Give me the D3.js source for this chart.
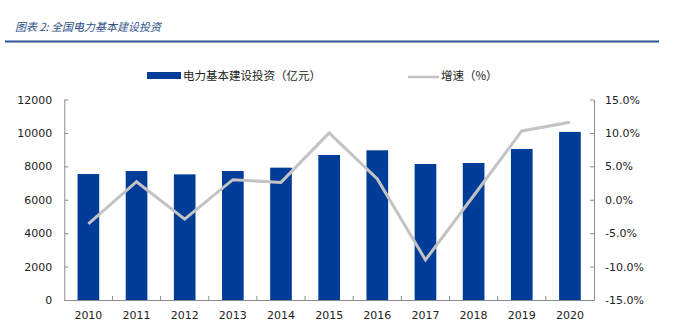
<!DOCTYPE html>
<html><head><meta charset="utf-8">
<script src="https://cdn.jsdelivr.net/npm/d3@7/dist/d3.min.js"></script>
<style>
body{margin:0;background:#fff;}
svg text{font-family:"DejaVu Sans",Verdana,sans-serif;}
.cjk{font-family:"Noto Sans CJK SC","DejaVu Sans",sans-serif;}
</style></head>
<body><svg id="c" width="674" height="325"></svg>
<script>
const years = ["2010","2011","2012","2013","2014","2015","2016","2017","2018","2019","2020"];
const investment = [7540, 7720, 7520, 7720, 7920, 8680, 8960, 8140, 8200, 9040, 10060];
const growth = [-3.6, 2.7, -2.9, 3.0, 2.6, 10.0, 3.1, -9.0, 0.6, 10.3, 11.6];
const leftTicks = [0, 2000, 4000, 6000, 8000, 10000, 12000];
const rightTicks = [-15, -10, -5, 0, 5, 10, 15];
const title = "图表 2: 全国电力基本建设投资";
const barName = "电力基本建设投资（亿元）";
const lineName = "增速（%）";

const svg = d3.select("#c");
const L = 64.3, R = 594, T = 99.5, B = 300;
const x = d3.scaleBand().domain(years).range([L, R]).paddingInner(0.55).paddingOuter(0.275);
const xc = d3.scaleBand().domain(years).range([L, R]);
const y = d3.scaleLinear().domain([0, 12000]).range([B, T]);
const y2 = d3.scaleLinear().domain([-15, 15]).range([B, T]);

// title
svg.append("text").attr("class","cjk").attr("x",15).attr("y",31)
  .attr("font-size",11).attr("font-style","italic").attr("fill","#2d4f8a").text(title);
svg.append("line").attr("x1",5).attr("x2",659).attr("y1",41.5).attr("y2",41.5)
  .attr("stroke","#2f5597").attr("stroke-width",2);

// bars
svg.append("g").selectAll("rect").data(years).join("rect")
  .attr("x", d => x(d)).attr("width", x.bandwidth())
  .attr("y", (d,i) => y(investment[i])).attr("height", (d,i) => B - y(investment[i]))
  .attr("fill","#003d98");

// line
const line = d3.line().x((d,i) => xc(years[i]) + xc.bandwidth()/2).y(d => y2(d));
svg.append("path").datum(growth).attr("d", line).attr("fill","none")
  .attr("stroke","#c3c3c3").attr("stroke-width",3);

// axes
const axL = d3.axisLeft(y).tickValues(leftTicks).tickFormat(d => String(d))
  .tickSizeInner(-4).tickSizeOuter(0).tickPadding(12);
const gL = svg.append("g").attr("transform",`translate(${L},0)`).call(axL);
const axR = d3.axisRight(y2).tickValues(rightTicks).tickFormat(d => d.toFixed(1) + "%")
  .tickSizeInner(-4).tickSizeOuter(0).tickPadding(12);
const gR = svg.append("g").attr("transform",`translate(${R},0)`).call(axR);
const axB = d3.axisBottom(xc).tickSize(0).tickPadding(11);
const gB = svg.append("g").attr("transform",`translate(0,${B})`).call(axB);
// inward ticks between categories
svg.append("g").selectAll("line").data(years.slice(1)).join("line")
  .attr("x1", d => xc(d)).attr("x2", d => xc(d)).attr("y1", B).attr("y2", B-4)
  .attr("stroke","#8c8c8c");

[gL,gR,gB].forEach(g => {
  g.selectAll(".domain").attr("stroke","#8c8c8c");
  g.selectAll(".tick line").attr("stroke","#8c8c8c");
  g.selectAll("text").attr("font-size",11).attr("fill","#222")
    .attr("font-family","'DejaVu Sans',Verdana,sans-serif");
});
gR.selectAll("text").attr("x", 11);

// legend
svg.append("rect").attr("x",147).attr("y",72).attr("width",34).attr("height",7).attr("fill","#003d98");
svg.append("text").attr("class","cjk").attr("x",183).attr("y",79.5).attr("font-size",11.5)
  .attr("fill","#222").text(barName);
svg.append("line").attr("x1",408).attr("x2",439).attr("y1",77).attr("y2",77)
  .attr("stroke","#c3c3c3").attr("stroke-width",2.5);
svg.append("text").attr("class","cjk").attr("x",441).attr("y",79.5).attr("font-size",11.5)
  .attr("fill","#222").text(lineName);
</script></body></html>
